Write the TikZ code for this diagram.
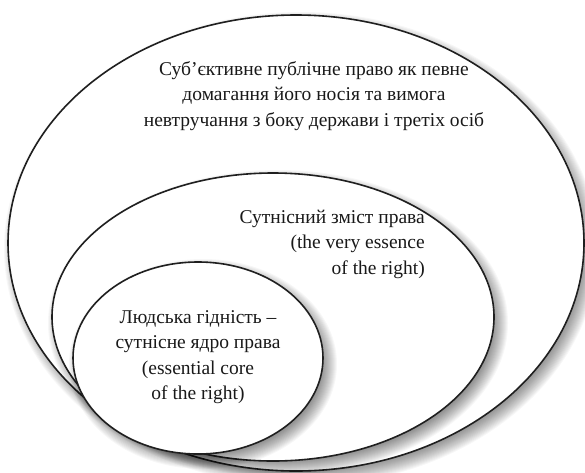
\documentclass[tikz,border=0pt]{standalone}
\usepackage{fontspec}
\setmainfont{Liberation Serif}
\usetikzlibrary{shapes.geometric}
\begin{document}
\begin{tikzpicture}[x=1pt,y=-1pt]
\useasboundingbox (0,0) rectangle (585,472);
\tikzset{
  ring/.style={ellipse, draw=black!88, line width=1.6pt, fill=white, inner sep=0pt},
  shadowlayer/.style={fill=black, opacity=0.03},
  lbl/.style={font=\fontsize{19.5}{25.5}\selectfont, inner sep=0pt, text=black!90}
}
\newcommand\softshade[4]{%
  \foreach \k in {0,...,15}{%
    \fill[shadowlayer] (#1+5,#2+6) ellipse [x radius=#3-6+\k, y radius=#4-6+\k];}}
\softshade{296}{243}{288}{228}
\node[ring, minimum width=576pt, minimum height=456pt] (outer) at (296,243) {};
\softshade{273}{317}{221}{144}
\node[ring, minimum width=442pt, minimum height=288pt] (middle) at (273,317) {};
\softshade{198}{358}{125}{96}
\node[ring, minimum width=250pt, minimum height=192pt] (inner) at (198,358) {};
\node[lbl, align=center] (t1) at (314,96) {Суб’єктивне публічне право як певне\\домагання його носія та вимога\\невтручання з боку держави і третіх осіб};
\node[lbl, align=right, anchor=east] (t2) at (425,244) {Сутнісний зміст права\\(the very essence\\of the right)};
\node[lbl, align=center] (t3) at (198,357) {Людська гідність –\\сутнісне ядро права\\(essential core\\of the right)};
\end{tikzpicture}
\end{document}
